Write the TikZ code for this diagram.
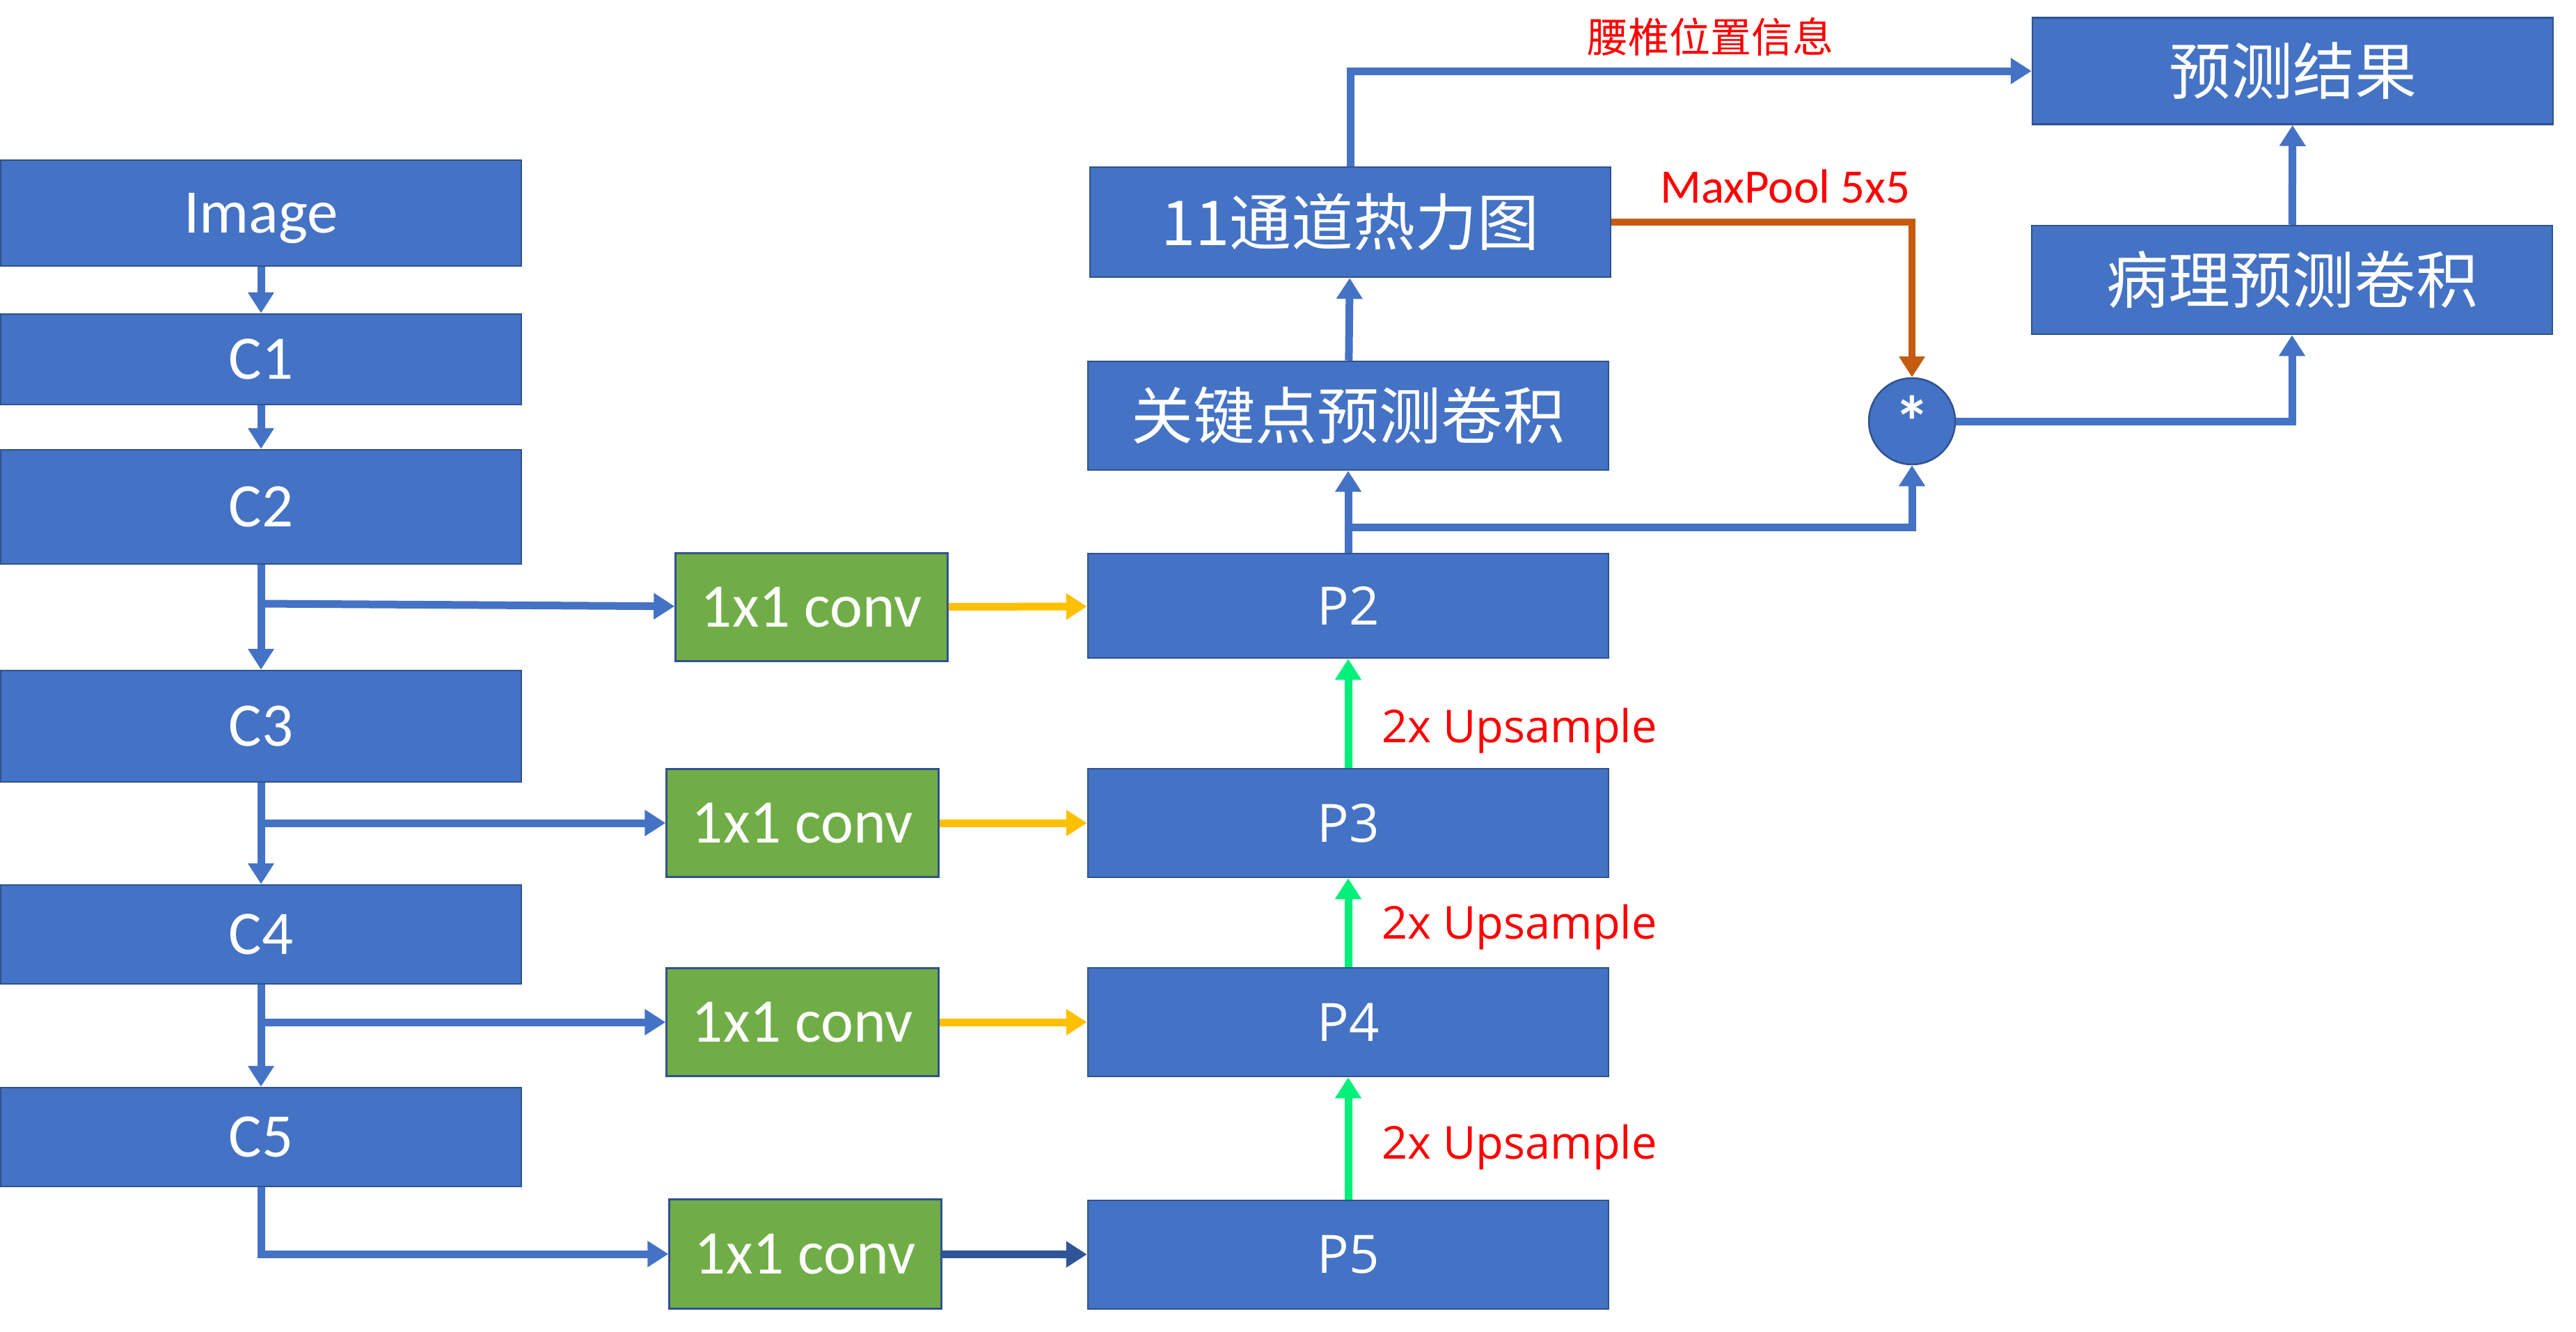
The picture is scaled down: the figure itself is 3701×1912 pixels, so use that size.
\documentclass[tikz,border=0pt]{standalone}
\usepackage{fontspec}
\setmainfont{Carlito}
\newfontfamily\cjkfont{Noto Sans CJK SC}
\newfontfamily\uifont{Open Sans}
\usepackage{tikz}
\usetikzlibrary{
  arrows.meta,
  chains,
  scopes
}
\definecolor{boxblue}{HTML}{4472C4}
\definecolor{boxline}{HTML}{2F528F}
\definecolor{convgreen}{HTML}{70AD47}
\definecolor{lateralyellow}{HTML}{FFC000}
\definecolor{upgreen}{HTML}{00F07A}
\definecolor{poolorange}{HTML}{C55A11}
\definecolor{darkfeed}{HTML}{2F5597}

\begin{document}
\begin{tikzpicture}[
      x=1pt, y=-1pt,
      stage/.style={
         rectangle,
         minimum width=748pt,
         line width=2.5pt,
         draw=boxline,
         fill=boxblue,
         text=white,
         inner sep=0pt,
         font=\fontsize{89}{100}\selectfont
      },
      lateral conv/.style={
         stage,
         fill=convgreen,
         minimum width=391pt,
         minimum height=155pt
      },
      pyramid/.style={
         stage,
         minimum height=156pt,
         font=\uifont\fontsize{76}{90}\selectfont
      },
      headbox/.style={
         stage,
         minimum height=156pt,
         font=\cjkfont\fontsize{89}{100}\selectfont
      },
      note/.style={text=red, inner sep=0pt},
      point/.style={coordinate},
      >={Triangle[length=30pt,width=36pt]},
      every join/.style={line width=11pt, draw=boxblue},
      tip/.style={->},
      lateral/.style={draw=lateralyellow},
      upsample/.style={draw=upgreen},
      dark feed/.style={draw=darkfeed},
      pool/.style={draw=poolorange, line width=10pt},
      hv path/.style={to path={-| (\tikztotarget)}},
      vh path/.style={to path={|- (\tikztotarget)}}
    ]
    \useasboundingbox (0,0) rectangle (3701,1912);

    % backbone
    \node (img) [stage, minimum height=152pt, text height=57pt, text depth=0pt] at (375,306) {Image};
    \node (c1)  [stage, minimum height=130pt] at (375,516)  {C1};
    \node (c2)  [stage, minimum height=164pt] at (375,728)  {C2};
    \node (c3)  [stage, minimum height=160pt] at (375,1043) {C3};
    \node (c4)  [stage, minimum height=142pt] at (375,1342) {C4};
    \node (c5)  [stage, minimum height=142pt] at (375,1633) {C5};
    \node (b2) [point] at (375,867)  {};
    \node (b3) [point] at (375,1182) {};
    \node (b4) [point] at (375,1468) {};

    % 1x1 convs and pyramid
    \node (k2) [lateral conv] at (1166,872)  {1x1 conv};
    \node (k3) [lateral conv] at (1153,1182) {1x1 conv};
    \node (k4) [lateral conv] at (1153,1468) {1x1 conv};
    \node (k5) [lateral conv, minimum height=157pt] at (1157,1801) {1x1 conv};
    \node (p2) [pyramid, minimum height=150pt] at (1937,870)  {P2};
    \node (p3) [pyramid] at (1937,1182) {P3};
    \node (p4) [pyramid] at (1937,1468) {P4};
    \node (p5) [pyramid] at (1937,1802) {P5};

    % heads
    \node (s) [point] at (1937,757) {};
    \node (kp)   [headbox] at (1937,597) {关键点预测卷积};
    \node (heat) [headbox, minimum height=158pt] at (1940,319) {11通道热力图};
    \node (mul)  [circle, draw=boxline, fill=boxblue, line width=2.5pt, minimum size=124pt,
                  inner sep=0pt, text=white, font=\bfseries\fontsize{104}{104}\selectfont] at (2747,605) {*};
    \node (path) [headbox] at (3293,402) {病理预测卷积};
    \node (res)  [headbox, minimum height=153pt] at (3294,102) {预测结果};

    % labels
    \node (up3) [note, anchor=west, font=\uifont\fontsize{65}{70}\selectfont] at (1985,1050) {2x Upsample};
    \node (up4) [note, anchor=west, font=\uifont\fontsize{65}{70}\selectfont] at (1985,1332) {2x Upsample};
    \node (up5) [note, anchor=west, font=\uifont\fontsize{65}{70}\selectfont] at (1985,1648) {2x Upsample};
    \node (poolnote) [note, font=\fontsize{69}{70}\selectfont] at (2565,268) {MaxPool 5x5};
    \node (locnote)  [note, font=\cjkfont\fontsize{59}{60}\selectfont] at (2457,53) {腰椎位置信息};

  { [start chain]
       \chainin (img);
       \chainin (c1)   [join=by tip];
       \chainin (c2)   [join=by tip];
       \chainin (b2)   [join];
       \chainin (c3)   [join=by tip];
       \chainin (b3)   [join];
       \chainin (c4)   [join=by tip];
       \chainin (b4)   [join];
       \chainin (c5)   [join=by tip];
       \chainin (k5)   [join=by {vh path,tip}];
       \chainin (p5)   [join=by {dark feed,tip}];
       \chainin (p4)   [join=by {upsample,tip}];
       \chainin (p3)   [join=by {upsample,tip}];
       \chainin (p2)   [join=by {upsample,tip}];
       \chainin (s)    [join];
       \chainin (kp)   [join=by tip];
       \chainin (heat) [join=by tip];
       \chainin (res)  [join=by {vh path,tip}];
  }
  { [start chain]
       \chainin (b2);
       \chainin (k2)   [join=by tip];
       \chainin (p2)   [join=by {lateral,tip}];
  }
  { [start chain]
       \chainin (b3);
       \chainin (k3)   [join=by tip];
       \chainin (p3)   [join=by {lateral,tip}];
  }
  { [start chain]
       \chainin (b4);
       \chainin (k4)   [join=by tip];
       \chainin (p4)   [join=by {lateral,tip}];
  }
  { [start chain]
       \chainin (s);
       \chainin (mul)  [join=by {hv path,tip}];
       \chainin (path) [join=by {hv path,tip}];
       \chainin (res)  [join=by tip];
  }
  { [start chain]
       \chainin (heat);
       \chainin (mul)  [join=by {pool,hv path,tip}];
  }
\end{tikzpicture}
\end{document}
